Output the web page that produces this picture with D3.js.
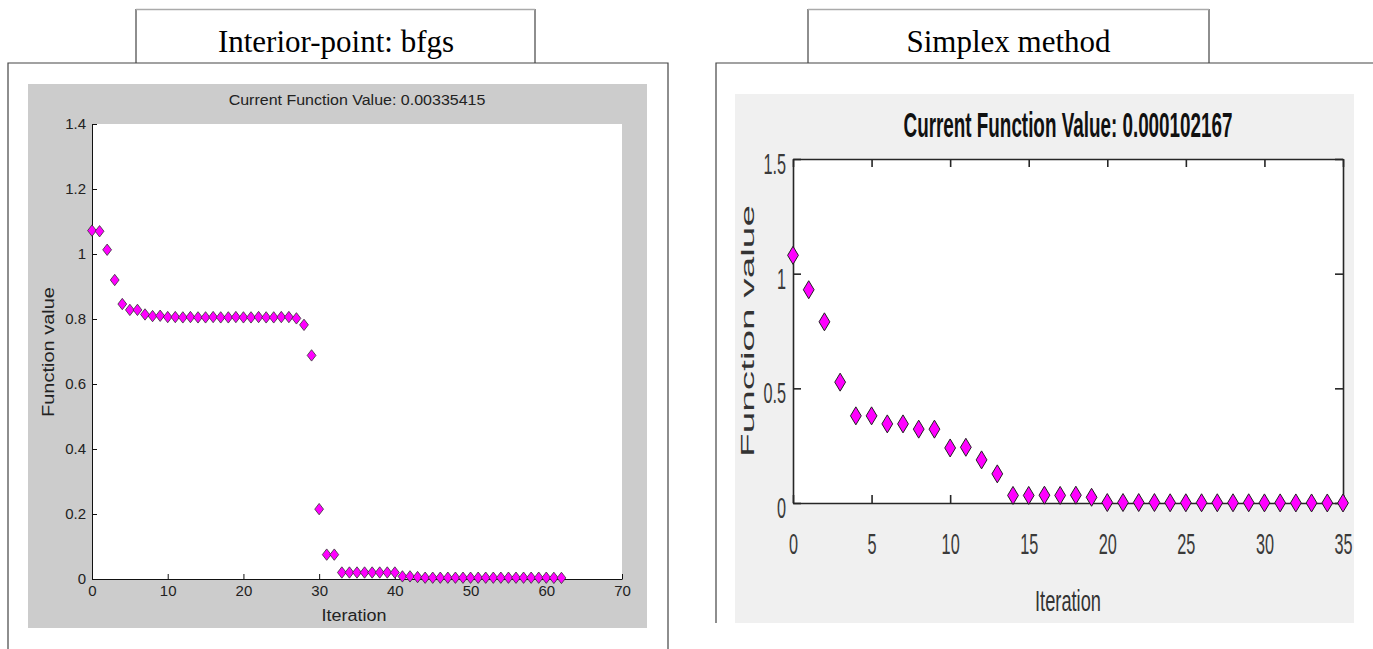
<!DOCTYPE html>
<meta charset="utf-8">
<style>
body { margin: 0; background: #fff; }
.frame { fill: none; stroke: #444; stroke-width: 1.2; }
.boxtitle { font-family: "Liberation Serif", "Times New Roman", serif; font-size: 31px; fill: #000; text-anchor: middle; }
.lax text { font-family: "Liberation Sans", Arial, sans-serif; font-size: 15px; fill: #222; }
.lax path, .lax line { stroke: #111; }
.rax text { font-family: "Liberation Sans", Arial, sans-serif; font-size: 29px; fill: #3a3a3a; }
.rax path, .rax line { stroke: #262626; stroke-width: 1.6; }
</style>
<svg width="1373" height="649"></svg>
<script src="https://d3js.org/d3.v7.min.js"></script>
<script>

// interior-point (bfgs) run
var bfgsValues = [1.072, 1.070, 1.013, 0.920, 0.846, 0.828, 0.828, 0.814, 0.809, 0.810,
  0.806, 0.806, 0.805, 0.806, 0.805, 0.805, 0.806, 0.805, 0.805, 0.806,
  0.805, 0.805, 0.806, 0.805, 0.805, 0.806, 0.806, 0.802, 0.782, 0.688,
  0.215, 0.075, 0.075, 0.020, 0.020, 0.020, 0.020, 0.020, 0.020, 0.020,
  0.020, 0.008, 0.008, 0.006, 0.004, 0.004, 0.004, 0.004, 0.004, 0.004,
  0.004, 0.004, 0.004, 0.004, 0.004, 0.004, 0.004, 0.004, 0.004, 0.004,
  0.004, 0.0035, 0.00335];
var bfgsXTicks = [0, 10, 20, 30, 40, 50, 60, 70];
var bfgsYTicks = [0, 0.2, 0.4, 0.6, 0.8, 1, 1.2, 1.4];

// simplex run
var simplexValues = [1.080, 0.930, 0.790, 0.527, 0.380, 0.380, 0.345, 0.345, 0.322, 0.322,
  0.240, 0.243, 0.188, 0.127, 0.033, 0.033, 0.034, 0.033, 0.034, 0.025,
  0.002, 0.002, 0.002, 0.002, 0.001, 0.001, 0.001, 0.001, 0.001, 0.001,
  0.0005, 0.0005, 0.0003, 0.0002, 0.0001, 0.0001];
var simplexXTicks = [0, 5, 10, 15, 20, 25, 30, 35];
var simplexYTicks = [0, 0.5, 1, 1.5];

var svg = d3.select("svg");

function diamond(w, h) {
  return "M0," + (-h) + "L" + w + ",0L0," + h + "L" + (-w) + ",0Z";
}

// text squeezed/stretched along its run to a given length (the screenshots were resized)
function fitText(x, y, str, size, len, opts) {
  opts = opts || {};
  var t = svg.append("text")
      .attr("text-anchor", "middle")
      .attr("font-family", "Liberation Sans, Arial, sans-serif")
      .attr("font-size", size)
      .attr("font-weight", opts.bold ? "bold" : null)
      .attr("fill", opts.fill || "#222")
      .text(str);
  var w = t.node().getComputedTextLength();
  var k = len / w;
  var tr = "translate(" + x + "," + y + ")" + (opts.rotate ? " rotate(-90)" : "") + " scale(" + k + ",1)";
  t.attr("transform", tr);
  return t;
}

// ---------- left panel ----------
svg.append("path").attr("class", "frame")
    .attr("d", "M8,649V63H668V649");
svg.append("path").attr("class", "frame")
    .attr("d", "M136,63V9.5H535V63");
svg.append("line").attr("x1", 136).attr("x2", 535).attr("y1", 9.5).attr("y2", 9.5)
    .attr("stroke", "#aaa").attr("stroke-width", 1.5);
svg.append("text").attr("class", "boxtitle").attr("x", 336).attr("y", 52)
    .text("Interior-point: bfgs");

svg.append("rect").attr("x", 28).attr("y", 84).attr("width", 619).attr("height", 544)
    .attr("fill", "#cccccc");

var xl = d3.scaleLinear().domain([0, 70]).range([92, 622]);
var yl = d3.scaleLinear().domain([0, 1.4]).range([579, 124]);

svg.append("rect").attr("x", xl(0)).attr("y", yl(1.4))
    .attr("width", xl(70) - xl(0)).attr("height", yl(0) - yl(1.4)).attr("fill", "#fff");

svg.append("g").attr("class", "lax")
    .attr("transform", "translate(0," + yl(0) + ")")
    .call(d3.axisBottom(xl).tickValues(bfgsXTicks).tickSize(-5).tickSizeOuter(0).tickPadding(6)
      .tickFormat(function(d) { return String(d); }));

svg.append("g").attr("class", "lax")
    .attr("transform", "translate(" + xl(0) + ",0)")
    .call(d3.axisLeft(yl).tickValues(bfgsYTicks).tickSize(-5).tickSizeOuter(0).tickPadding(6)
      .tickFormat(function(d) { return String(d); }));

fitText(357, 105, "Current Function Value: 0.00335415", 15, 257);
fitText(354, 621, "Iteration", 17, 65);
fitText(54, 352, "Function value", 17, 130, { rotate: true });

svg.append("g").selectAll("path")
    .data(bfgsValues)
  .enter().append("path")
    .attr("transform", function(d, i) { return "translate(" + xl(i) + "," + yl(d) + ")"; })
    .attr("d", diamond(4.4, 5.7))
    .attr("fill", "#ff00ff").attr("stroke", "#333").attr("stroke-width", 0.8);

// ---------- right panel ----------
svg.append("path").attr("class", "frame")
    .attr("d", "M716,623V63H1373");
svg.append("path").attr("class", "frame")
    .attr("d", "M808,63V9.5H1209V63");
svg.append("line").attr("x1", 808).attr("x2", 1209).attr("y1", 9.5).attr("y2", 9.5)
    .attr("stroke", "#aaa").attr("stroke-width", 1.5);
svg.append("text").attr("class", "boxtitle").attr("x", 1008.5).attr("y", 52)
    .text("Simplex method");

svg.append("rect").attr("x", 735).attr("y", 94).attr("width", 619).attr("height", 529)
    .attr("fill", "#f0f0f0");

var xr = d3.scaleLinear().domain([0, 35]).range([793, 1343]);
var yr = d3.scaleLinear().domain([0, 1.5]).range([503, 159]);
var sx = 0.56;

svg.append("rect").attr("x", xr(0)).attr("y", yr(1.5))
    .attr("width", xr(35) - xr(0)).attr("height", yr(0) - yr(1.5)).attr("fill", "#fff");

var rb = svg.append("g").attr("class", "rax")
    .attr("transform", "translate(0," + yr(0) + ")")
    .call(d3.axisBottom(xr).tickValues(simplexXTicks).tickSize(-8).tickSizeOuter(0).tickPadding(51)
      .tickFormat(function(d) { return String(d); }));
rb.selectAll("text").attr("dy", 0).attr("transform", "scale(" + sx + ",1)");

var rl = svg.append("g").attr("class", "rax")
    .attr("transform", "translate(" + xr(0) + ",0)")
    .call(d3.axisLeft(yr).tickValues(simplexYTicks).tickSize(-8).tickSizeOuter(0)
      .tickFormat(function(d) { return String(d); }));
rl.selectAll("text").attr("x", -7 / sx).attr("dy", "0.5em").attr("transform", "scale(" + sx + ",1)");

svg.append("g").attr("class", "rax")
    .attr("transform", "translate(0," + yr(1.5) + ")")
    .call(d3.axisTop(xr).tickValues(simplexXTicks).tickSize(-8).tickSizeOuter(0).tickFormat(""));

svg.append("g").attr("class", "rax")
    .attr("transform", "translate(" + xr(35) + ",0)")
    .call(d3.axisRight(yr).tickValues(simplexYTicks).tickSize(-8).tickSizeOuter(0).tickFormat(""));

fitText(1068, 137, "Current Function Value: 0.000102167", 35, 329, { bold: true, fill: "#111" });
fitText(1068, 611, "Iteration", 30, 66, { fill: "#333" });
fitText(754, 331, "Function value", 19, 252, { rotate: true, fill: "#333" });

svg.append("g").selectAll("path")
    .data(simplexValues)
  .enter().append("path")
    .attr("transform", function(d, i) { return "translate(" + xr(i) + "," + yr(d) + ")"; })
    .attr("d", diamond(5.4, 9))
    .attr("fill", "#ff00ff").attr("stroke", "#222").attr("stroke-width", 1);

</script>
